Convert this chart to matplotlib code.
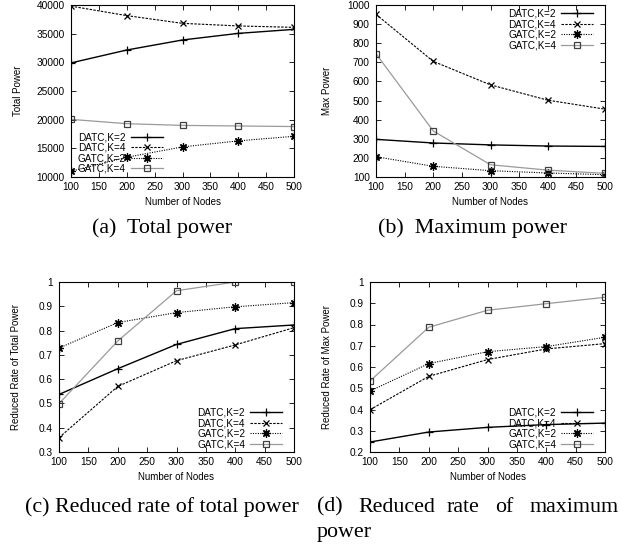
import matplotlib
matplotlib.use("Agg")
import matplotlib.pyplot as plt

plt.rcParams["font.family"] = ["Liberation Sans", "DejaVu Sans"]

nodes = [100, 200, 300, 400, 500]
labels = ["DATC,K=2", "DATC,K=4", "GATC,K=2", "GATC,K=4"]

# (a) total power
total_power = [
    [29900, 32150, 33900, 35050, 35750],
    [39800, 38150, 36800, 36350, 36100],
    [11000, 13450, 15250, 16300, 17100],
    [20050, 19300, 19000, 18900, 18800],
]
# (b) max power
max_power = [
    [297, 278, 268, 262, 260],
    [951, 705, 582, 502, 455],
    [206, 156, 133, 121, 112],
    [745, 341, 164, 136, 119],
]
# (c) reduced rate of total power
rate_total = [
    [0.537, 0.643, 0.743, 0.808, 0.823],
    [0.359, 0.570, 0.676, 0.741, 0.812],
    [0.728, 0.833, 0.874, 0.898, 0.915],
    [0.499, 0.757, 0.964, 1.0, 1.0],
]
# (d) reduced rate of max power
rate_max = [
    [0.247, 0.294, 0.316, 0.329, 0.336],
    [0.399, 0.556, 0.635, 0.685, 0.710],
    [0.487, 0.616, 0.672, 0.696, 0.740],
    [0.534, 0.787, 0.867, 0.898, 0.928],
]

styles = [
    dict(color="black", linestyle="-", lw=1.0, marker="+", ms=6, mew=0.9),
    dict(color="black", linestyle=(0, (2.2, 1.2)), lw=0.8, marker="x", ms=5, mew=0.9),
    dict(color="black", linestyle=(0, (1, 1.2)), lw=0.8, marker=(8, 2, 0), ms=6, mew=0.9),
    dict(color="#9a9a9a", linestyle="-", lw=0.9, marker="s", ms=5, mew=0.9,
         mfc="none", mec="#404040"),
]

W, H = 622, 548
fig = plt.figure(figsize=(W / 100, H / 100), dpi=100)


def make_axes(l, t, r, b):
    return fig.add_axes([l / W, 1 - b / H, (r - l) / W, (b - t) / H])


panels = [
    (make_axes(71, 5, 294, 177), total_power, "Total Power", (10000, 40000), 5000,
     "lower left", (0.031, 0.02), (-0.215, -0.116)),
    (make_axes(376, 5, 605, 177), max_power, "Max Power", (100, 1000), 100,
     "upper right", (0.948, 0.977), (-0.192, -0.116)),
    (make_axes(59, 282, 294, 452), rate_total, "Reduced Rate of Total Power", (0.3, 1.0), 0.1,
     "lower right", (0.949, 0.015), (-0.162, -0.118)),
    (make_axes(370, 282, 605, 452), rate_max, "Reduced Rate of Max Power", (0.2, 1.0), 0.1,
     "lower right", (0.949, 0.015), (-0.162, -0.118)),
]

for ax, data, ylabel, ylim, step, loc, anchor, lab_xy in panels:
    for series, lab, st in zip(data, labels, styles):
        ax.plot(nodes, series, label=lab, **st)
    ax.set_xlim(100, 500)
    ax.set_ylim(*ylim)
    ax.set_xticks(range(100, 501, 50))
    n = int(round((ylim[1] - ylim[0]) / step))
    yt = [ylim[0] + i * step for i in range(n + 1)]
    ax.set_yticks(yt)
    if step < 1:
        ax.set_yticklabels([f"{round(y, 1):g}" for y in yt])
    ax.tick_params(direction="in", top=True, right=True, length=3.5, width=0.6,
                   labelsize=7.3)
    ax.tick_params(axis="x", pad=3.5)
    ax.tick_params(axis="y", pad=4.5)
    for s in ax.spines.values():
        s.set_linewidth(0.8)
    ax.set_xlabel("Number of Nodes", fontsize=7)
    ax.set_ylabel(ylabel, fontsize=7)
    ax.yaxis.set_label_coords(lab_xy[0], 0.5)
    ax.xaxis.set_label_coords(0.5, lab_xy[1])
    ax.legend(loc=loc, bbox_to_anchor=anchor, frameon=False, markerfirst=False,
              fontsize=7.2, handlelength=3.2, handletextpad=0.5, labelspacing=0.05,
              borderaxespad=0, borderpad=0)

serif = ["Liberation Serif", "DejaVu Serif"]
cap = dict(family=serif, fontsize=15.8, va="center")
fig.text(162 / W, 1 - 228 / H, "(a)  Total power", ha="center", **cap)
fig.text(472 / W, 1 - 228 / H, "(b)  Maximum power", ha="center", **cap)
fig.text(162 / W, 1 - 507 / H, "(c) Reduced rate of total power", ha="center", **cap)
for word, x in [("(d)", 317), ("Reduced", 358), ("rate", 447), ("of", 495), ("maximum", 530)]:
    fig.text(x / W, 1 - 507 / H, word, ha="left", **cap)
fig.text(317 / W, 1 - 532 / H, "power", ha="left", **cap)

fig.savefig("out.png", dpi=100)
